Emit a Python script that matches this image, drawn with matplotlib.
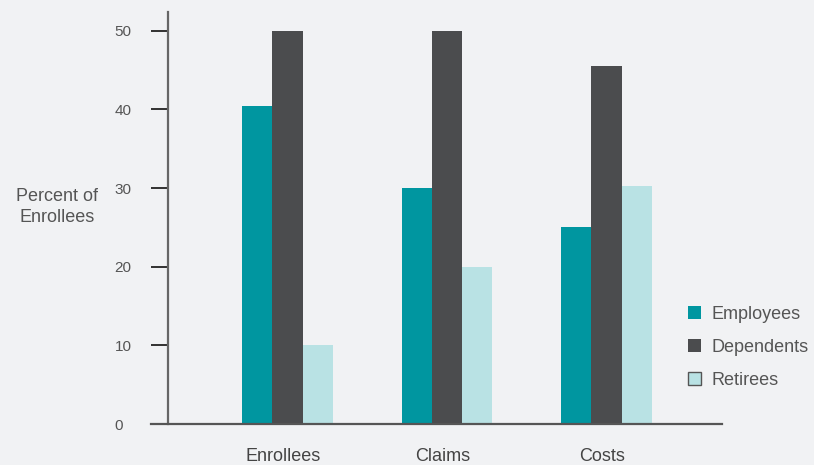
import matplotlib
matplotlib.use("Agg")
import matplotlib.pyplot as plt
from matplotlib.patches import Patch
import numpy as np

plt.rcParams['font.family'] = ['Liberation Sans', 'DejaVu Sans']

categories = ["Enrollees", "Claims", "Costs"]
series_names = ["Employees", "Dependents", "Retirees"]
employees = [40.5, 30.0, 25.0]
dependents = [50.0, 50.0, 45.5]
retirees = [10.0, 20.0, 30.3]
yticks = [0, 10, 20, 30, 40, 50]

colors = ["#0096a0", "#4b4c4e", "#b9e2e4"]
bg = "#f1f2f4"
W, H = 814, 465

fig = plt.figure(figsize=(W / 100, H / 100), dpi=100, facecolor=bg)
ax = fig.add_axes([151 / W, (H - 424) / H, (722 - 151) / W, (424 - 12) / H])
ax.set_facecolor(bg)

x = np.arange(len(categories))
w = 0.19
for i, (vals, c) in enumerate(zip([employees, dependents, retirees], colors)):
    ax.bar(x + (i - 1) * w, vals, width=w, color=c, edgecolor="none", zorder=2)

# axis limits in px-derived units
spacing = 159.5
x_left = (151 - 287.5) / spacing
x_right = (722 - 287.5) / spacing
ax.set_xlim(x_left, x_right)
ax.set_ylim(0, 52.4)

for s in ["top", "right"]:
    ax.spines[s].set_visible(False)
ax.spines["left"].set_position(("data", (168 - 287.5) / spacing))
ax.spines["left"].set_color("#666666")
ax.spines["left"].set_linewidth(1.6)
ax.spines["bottom"].set_color("#555555")
ax.spines["bottom"].set_linewidth(1.6)
ax.spines["bottom"].set_zorder(3)

ax.set_yticks(yticks)
ax.set_yticklabels([str(t) for t in yticks], ha="left")
ax.tick_params(axis="y", length=12.5, width=1.3, color="#222222",
               pad=26, labelsize=11, labelcolor="#555555")
ax.set_xticks(x - 0.025)
ax.set_xticklabels(categories)
ax.tick_params(axis="x", length=0, pad=17, labelsize=13, labelcolor="#444444")

fig.text(57 / W, 1 - 207 / H, "Percent of\nEnrollees", ha="center", va="center",
         fontsize=13, color="#555555", linespacing=1.35)

handles = [Patch(facecolor=colors[0], edgecolor="none"),
           Patch(facecolor=colors[1], edgecolor="none"),
           Patch(facecolor=colors[2], edgecolor="#555555", linewidth=1.0)]
leg = fig.legend(handles, series_names, loc="upper left",
                 bbox_to_anchor=(675 / W, 1 - 293 / H), frameon=False,
                 fontsize=13, handlelength=0.72, handleheight=0.72,
                 handletextpad=0.6, labelspacing=0.9, borderpad=0.2)
for t in leg.get_texts():
    t.set_color("#555555")

fig.savefig("out.png", dpi=100, facecolor=bg)
